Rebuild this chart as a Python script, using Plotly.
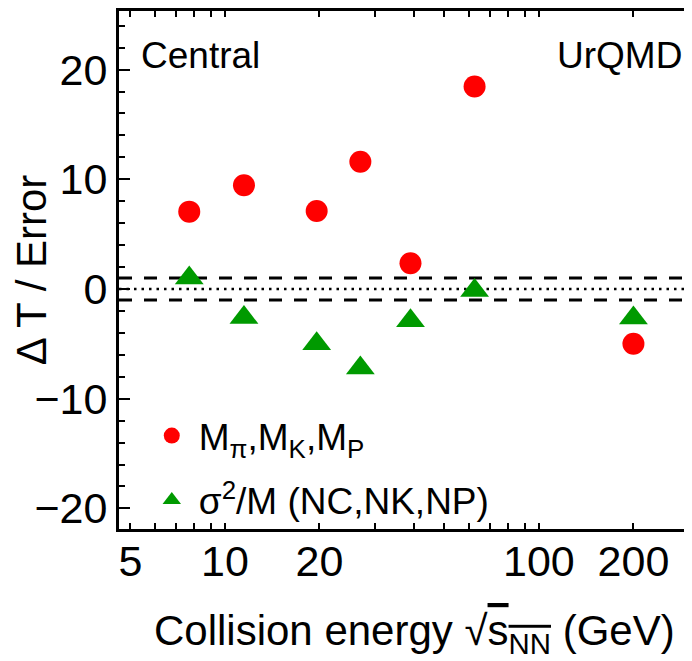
import math
import plotly.graph_objects as go

# ---- data ----
energy = [7.7, 11.5, 19.6, 27, 39, 62.4, 200]
dT_moments = [7.05, 9.45, 7.1, 11.6, 2.35, 18.45, -5.0]
dT_scaled_var = [1.0, -2.6, -5.0, -7.2, -2.9, -0.15, -2.65]
band_levels = [-1, 1]
zero_level = [0]

x_tickvals = [5, 10, 20, 100, 200]
x_ticktext = ["5", "10", "20", "100", "200"]
x_major_long = [10, 100]
x_minor = [6, 7, 8, 9, 30, 40, 50, 60, 70, 80, 90, 300]
y_tickvals = [-20, -10, 0, 10, 20]

FONT = "Liberation Sans, Arial, Helvetica, sans-serif"
RED = "#FF0000"
GREEN = "#009A00"

fig = go.Figure()
fig.add_trace(go.Scatter(
    x=energy, y=dT_moments, mode="markers",
    name="M<sub>π</sub>,M<sub>K</sub>,M<sub>P</sub>",
    marker=dict(symbol="circle", size=22, color=RED),
    legend="legend"))
fig.add_trace(go.Scatter(
    x=energy, y=dT_scaled_var, mode="markers",
    name="σ<sup>2</sup>/M (NC,NK,NP)",
    marker=dict(symbol="triangle-up", size=25, color=GREEN),
    legend="legend2"))

for v in band_levels:
    fig.add_hline(y=v, line=dict(color="black", width=3, dash="13px,12px"), layer="below")
for v in zero_level:
    fig.add_hline(y=v, line=dict(color="black", width=2.5, dash="2.5px,5px"), layer="below")

xr = [math.log10(4.60), math.log10(307.3)]
tick_common = dict(ticks="inside", tickwidth=1.5, tickcolor="black",
                   showgrid=False, zeroline=False, automargin=False)

fig.update_layout(
    width=684, height=653,
    margin=dict(l=111, r=0, t=3, b=132, autoexpand=False),
    paper_bgcolor="white", plot_bgcolor="white",
    font=dict(family=FONT, color="black"),
    xaxis=dict(type="log", range=xr, tickmode="array", tickvals=x_tickvals,
               ticktext=x_ticktext, ticklen=6, showline=True, linewidth=3,
               linecolor="black", mirror="ticks", tickfont=dict(size=43, color="black"),
               ticklabelstandoff=-8,
               minor=dict(tickmode="array", tickvals=x_minor, ticks="inside",
                          ticklen=6, tickwidth=1.5, tickcolor="black", showgrid=False),
               **tick_common),
    xaxis2=dict(type="log", range=xr, overlaying="x", anchor="y", side="bottom",
                tickmode="array", tickvals=x_major_long, ticklen=11,
                showticklabels=False, showline=False, mirror="ticks",
                **tick_common),
    yaxis=dict(range=[-21.88, 25.34], tickmode="array", tickvals=y_tickvals,
               ticklen=11, showline=True, linewidth=3, linecolor="black",
               mirror=False, tickfont=dict(size=43, color="black"),
               minor=dict(tickmode="linear", tick0=0, dtick=2, ticks="inside",
                          ticklen=6, tickwidth=1.5, tickcolor="black", showgrid=False),
               title=dict(text="\u2009\u2009Δ T / Error", font=dict(size=42, color="black"), standoff=0),
               **tick_common),
    legend=dict(x=0.045, y=0.1795, xanchor="left", yanchor="middle",
                bgcolor="rgba(0,0,0,0)", font=dict(size=37), itemwidth=44),
    legend2=dict(x=0.045, y=0.055, xanchor="left", yanchor="middle",
                 bgcolor="rgba(0,0,0,0)", font=dict(size=37), itemwidth=44),
    showlegend=True,
    annotations=[
        dict(text="Central", xref="paper", yref="paper", x=0.035, y=0.915,
             xanchor="left", yanchor="middle", showarrow=False, font=dict(size=37)),
        dict(text="UrQMD", xref="paper", yref="paper", x=0.986, y=0.915,
             xanchor="right", yanchor="middle", showarrow=False, font=dict(size=37)),
        dict(text="Collision energy √<span style='text-decoration:overline'>s<sub>NN</sub></span> (GeV)",
             xref="paper", yref="paper", x=0.515, y=-0.2027,
             xanchor="center", yanchor="middle", showarrow=False, font=dict(size=42)),
    ],
)

fig.write_html("out.html")
